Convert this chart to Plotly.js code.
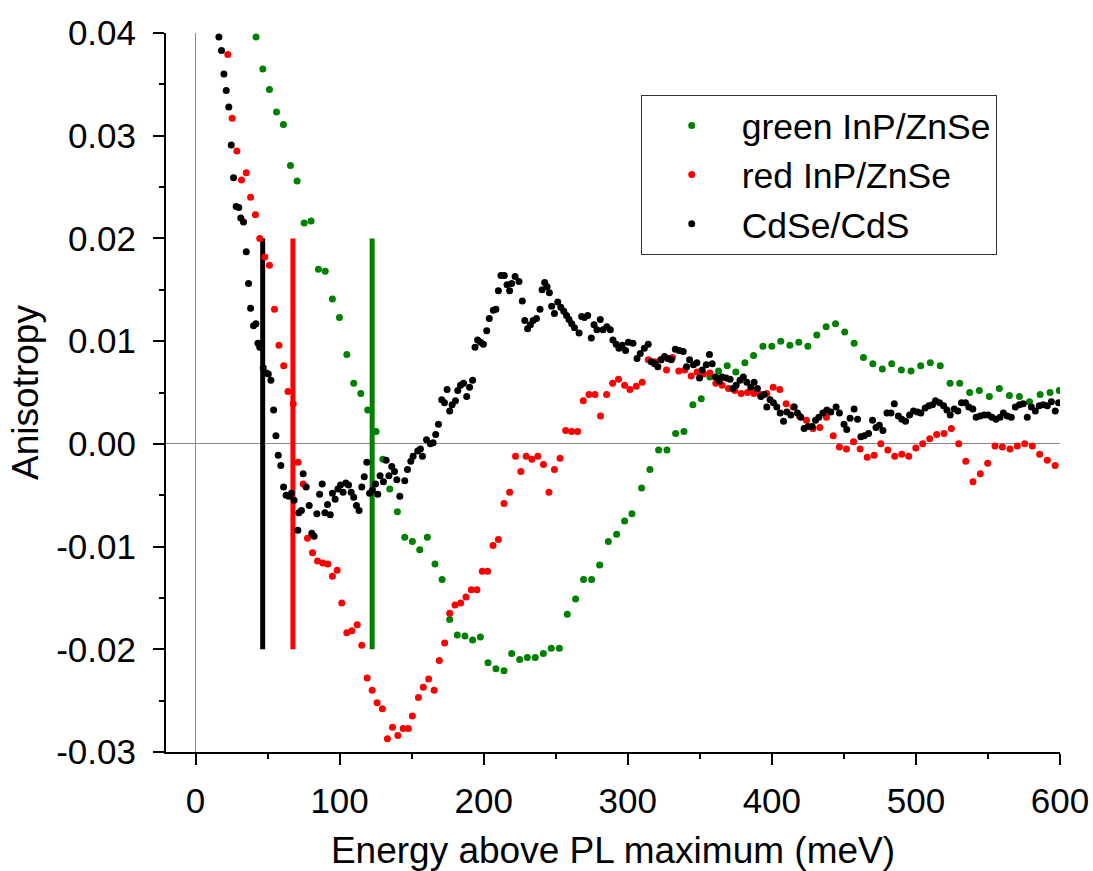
<!DOCTYPE html>
<html>
<head>
<meta charset="utf-8">
<script src="https://cdn.plot.ly/plotly-3.0.1.min.js"></script>
<style>html,body{margin:0;padding:0;background:#fff;}#chart{width:1093px;height:871px;}</style>
</head>
<body>
<div id="chart"></div>
<script>
// ---- data ----
const greenX = [42,46.7,51.3,56.2,61,65.9,70.5,75.4,80.2,85.3,90,95,99.9,105,109.8,114.7,119.5,125.3,130,134.8,140.1,145.2,150.5,155.6,160.9,166.2,171.1,176.4,181.7,187,192.3,197.7,203,208.5,214.1,219.4,225,230.3,235.8,241.4,246.9,252.5,258,263.8,269.3,274.9,280.5,286.5,292.3,297.8,302.9,309.6,315.4,321.4,327.2,333.2,339,345.2,351,357,363,369,375,381.3,387.3,393.8,400,406.2,412.5,418.7,425,431.2,437.7,444.2,450.6,457.1,463.6,470.1,476.7,483.2,489.9,496.6,503.3,510,516.9,523.7,530.4,537.3,544,551,557.9,564.9,571.8,578.8,586.2,593.1,599.5];
const greenY = [0.0396,0.0365,0.0345,0.0323,0.0311,0.0271,0.0256,0.0215,0.0217,0.0170,0.0168,0.0141,0.0123,0.0087,0.0059,0.0049,0.0033,0.0012,-0.0015,-0.0044,-0.0066,-0.0091,-0.0095,-0.0103,-0.0091,-0.0117,-0.0132,-0.0171,-0.0186,-0.0187,-0.0191,-0.0188,-0.0213,-0.0219,-0.0221,-0.0204,-0.0210,-0.0208,-0.0208,-0.0204,-0.0199,-0.0199,-0.0166,-0.0151,-0.0132,-0.0132,-0.0118,-0.0095,-0.0088,-0.0075,-0.0068,-0.0043,-0.0025,-0.0006,-0.0006,0.0010,0.0012,0.0038,0.0044,0.0065,0.0071,0.0076,0.0070,0.0079,0.0086,0.0095,0.0095,0.0100,0.0096,0.0099,0.0095,0.0106,0.0114,0.0117,0.0109,0.0098,0.0084,0.0078,0.0073,0.0078,0.0072,0.0071,0.0076,0.0079,0.0076,0.0059,0.0059,0.0050,0.0052,0.0046,0.0054,0.0047,0.0046,0.0041,0.0048,0.0050,0.0052];

const redX = [22.4,25.4,28.7,31.9,35.2,38.2,41.6,44.6,48.1,51.3,54.8,57.9,61.2,64.2,67.8,71.2,74.7,77.7,81.2,84.7,88.3,91.8,95,98.3,101.5,105,108.5,112.2,115.4,119.1,122.6,126,129.7,133.2,136.7,140.4,144.1,147.7,150.5,154.7,158.1,161.8,165.6,169.2,172.9,176.4,180.1,184,187.7,191.4,195.3,199,202.7,206.5,210.2,214.1,218,222.1,225.8,229.5,233.4,237.6,241.5,245.3,249.1,253,256.9,261.1,265.2,269.1,273.1,277.3,281.1,285.3,289.5,293.6,297.8,301.5,305.9,310,314.2,318.6,322.7,326.9,331,335.4,339.6,344,348.1,352.6,357,361.1,365.5,369.9,374.3,378.7,383.1,387.5,391.9,396.5,400.9,405.5,409.9,414.8,419.2,424,428.5,433.3,437.9,442.6,446.9,451.8,456.7,461.3,466.2,471,475.6,480.5,485.3,490.2,495,499.9,504.7,509.6,514.4,519.5,524.6,529.7,534.6,539.6,544.7,549.8,554.9,560,565.3,570.4,575.5,580.8,585.9,591.2,596.6];
const redY = [0.0379,0.0317,0.0285,0.0257,0.0264,0.0240,0.0223,0.0200,0.0182,0.0174,0.0131,0.0096,0.0076,0.0051,0.0039,-0.0018,-0.0039,-0.0092,-0.0106,-0.0114,-0.0116,-0.0117,-0.0129,-0.0123,-0.0155,-0.0184,-0.0182,-0.0176,-0.0196,-0.0228,-0.0240,-0.0252,-0.0258,-0.0287,-0.0276,-0.0284,-0.0277,-0.0277,-0.0265,-0.0247,-0.0237,-0.0229,-0.0240,-0.0211,-0.0194,-0.0165,-0.0157,-0.0155,-0.0149,-0.0142,-0.0142,-0.0124,-0.0124,-0.0099,-0.0093,-0.0058,-0.0047,-0.0012,-0.0027,-0.0012,-0.0015,-0.0012,-0.0020,-0.0047,-0.0025,-0.0014,0.0013,0.0012,0.0012,0.0042,0.0048,0.0048,0.0027,0.0048,0.0059,0.0063,0.0057,0.0053,0.0056,0.0060,0.0082,0.0080,0.0082,0.0072,0.0084,0.0071,0.0072,0.0066,0.0070,0.0068,0.0069,0.0059,0.0057,0.0054,0.0052,0.0049,0.0050,0.0049,0.0048,0.0049,0.0055,0.0053,0.0039,0.0036,0.0027,0.0023,0.0015,0.0016,0.0026,0.0008,-0.0003,-0.0005,0.0002,-0.0005,-0.0013,-0.0011,0.0000,-0.0006,-0.0012,-0.0010,-0.0012,-0.0004,0.0000,0.0005,0.0009,0.0010,0.0015,0.0000,-0.0017,-0.0037,-0.0029,-0.0019,-0.0002,-0.0003,-0.0005,-0.0002,0.0000,-0.0002,-0.0010,-0.0016,-0.0021];

const blackX = [16.2,18,19.7,21.3,23.1,24.8,26.4,28.2,30,31.4,33.3,35.2,36.8,38.2,40.3,41.9,43.3,44.6,47,48.9,50.5,52.3,54.2,55.8,57.4,59.2,61.1,62.9,64.8,66.6,68.4,71,71.7,73.5,74.7,76.8,78.9,80.7,82.3,84.2,86.1,87.9,89.8,91.6,93.5,95,96.9,98.8,100.6,102.4,104.3,106.2,108,109.8,111.7,113.5,115.4,117.1,118.9,120.8,122.8,124.9,126.5,128.1,130.4,132.3,134.2,136.2,138.1,139.7,141.8,145.2,147.1,149.4,151,154.2,156.1,157.5,160.3,163,164.9,166.7,168.6,170.9,172.8,174.6,176.4,178.1,180.4,182,183.9,186,188.2,190.2,192.3,194,195.8,197.8,199.8,202.1,203.9,206.7,208.5,210.2,212,214.3,216.2,218,219.4,221.8,224.5,226.8,228.5,230.5,232.4,234.3,236.6,239.1,240.5,242.3,244,245.6,247.2,249.1,251.4,253.5,255.6,257.5,259.2,261.1,263,266.2,268,269.9,272.2,274.7,276.6,278.6,280.9,282.8,285.5,287.9,289.7,292,293.9,296.2,298.5,300.4,303.6,306.4,308.7,311.5,314.2,316.3,318.6,320.9,323.2,325.5,327.9,330.2,333,335.7,338.5,340.8,342.9,345.6,348,349.8,351.7,354.5,356.7,358.6,360.9,363.5,365.5,368.3,371,372.9,375.2,377.9,380.2,382.6,385.4,387.7,390,392.4,394.7,396.5,398.8,401.1,403.4,405.8,408.1,410.4,413.2,415.5,417.8,420.1,422.4,425.2,428,430.3,432.6,435.4,438.2,440.9,444.6,446.9,450.1,452,454.3,457.1,459.5,461.8,464.1,467.1,469.9,472.3,474.6,477.1,479.9,482.7,485,487.8,490.2,492.8,495.6,498.3,501.1,503.4,506.4,509,511.5,513.6,516.4,519.2,521.5,523.8,526.6,529.1,531.6,534.4,536.7,539.5,541.8,544.5,547.3,550.1,552.8,555.6,558.4,560.7,563.4,566.2,569,571.8,574.5,577.3,580.1,582.9,585.6,588.4,591.2,594,596.7,599];
const blackY = [0.0396,0.0383,0.0360,0.0344,0.0328,0.0291,0.0259,0.0231,0.0230,0.0220,0.0216,0.0187,0.0156,0.0132,0.0115,0.0117,0.0098,0.0094,0.0074,0.0069,0.0068,0.0062,0.0033,0.0008,-0.0011,-0.0021,-0.0042,-0.0050,-0.0051,-0.0048,-0.0055,-0.0084,-0.0067,-0.0065,-0.0029,-0.0042,-0.0060,-0.0087,-0.0090,-0.0068,-0.0049,-0.0039,-0.0067,-0.0059,-0.0069,-0.0048,-0.0054,-0.0044,-0.0040,-0.0047,-0.0038,-0.0040,-0.0047,-0.0052,-0.0060,-0.0065,-0.0042,-0.0032,-0.0018,-0.0048,-0.0045,-0.0039,-0.0049,-0.0031,-0.0037,-0.0016,-0.0031,-0.0022,-0.0027,-0.0035,-0.0051,-0.0036,-0.0025,-0.0017,-0.0012,-0.0007,-0.0005,-0.0012,0.0004,0.0000,0.0001,0.0009,0.0019,0.0043,0.0040,0.0053,0.0032,0.0038,0.0042,0.0052,0.0057,0.0059,0.0046,0.0055,0.0062,0.0094,0.0101,0.0099,0.0097,0.0110,0.0122,0.0130,0.0131,0.0149,0.0164,0.0164,0.0155,0.0149,0.0156,0.0163,0.0158,0.0139,0.0120,0.0112,0.0116,0.0120,0.0122,0.0131,0.0150,0.0157,0.0153,0.0147,0.0134,0.0127,0.0138,0.0133,0.0129,0.0125,0.0121,0.0117,0.0113,0.0108,0.0124,0.0123,0.0125,0.0103,0.0116,0.0111,0.0121,0.0111,0.0114,0.0111,0.0101,0.0097,0.0093,0.0096,0.0091,0.0099,0.0098,0.0083,0.0088,0.0093,0.0097,0.0080,0.0078,0.0075,0.0082,0.0085,0.0083,0.0082,0.0092,0.0091,0.0090,0.0075,0.0082,0.0077,0.0079,0.0064,0.0072,0.0077,0.0087,0.0078,0.0065,0.0061,0.0065,0.0064,0.0063,0.0054,0.0057,0.0062,0.0065,0.0060,0.0055,0.0060,0.0054,0.0046,0.0048,0.0036,0.0043,0.0040,0.0036,0.0030,0.0022,0.0031,0.0028,0.0036,0.0030,0.0026,0.0015,0.0017,0.0017,0.0023,0.0026,0.0030,0.0033,0.0031,0.0036,0.0030,0.0019,0.0014,0.0025,0.0034,0.0024,0.0007,0.0008,0.0010,0.0023,0.0016,0.0018,0.0013,0.0030,0.0030,0.0039,0.0027,0.0024,0.0022,0.0028,0.0032,0.0031,0.0030,0.0035,0.0037,0.0038,0.0042,0.0040,0.0037,0.0033,0.0028,0.0034,0.0032,0.0040,0.0040,0.0036,0.0034,0.0026,0.0027,0.0028,0.0028,0.0026,0.0024,0.0026,0.0030,0.0027,0.0026,0.0036,0.0038,0.0039,0.0026,0.0036,0.0032,0.0037,0.0038,0.0037,0.0041,0.0032,0.0040];

// vertical marker bars (energy positions, meV) and their extent in anisotropy
const seriesNames = ["green InP/ZnSe", "red InP/ZnSe", "CdSe/CdS"];
const seriesColors = ["#008000", "#ff0000", "#000000"];
const barX = [122.6, 67.6, 46.6];   // green, red, black
const barY = [-0.02, 0.02];

const xTickVals = [0,100,200,300,400,500,600];
const xTickText = ["0","100","200","300","400","500","600"];
const yTickVals = [0.04,0.03,0.02,0.01,0,-0.01,-0.02,-0.03];
const yTickText = ["0.04","0.03","0.02","0.01","0.00","-0.01","-0.02","-0.03"];

const FONT = "Arial, 'Liberation Sans', sans-serif";

const traces = [];
// bars first (underneath)
barX.forEach((bx, i) => {
  traces.push({
    x: [bx, bx], y: barY, type: "scatter", mode: "lines",
    line: {color: seriesColors[i], width: 5},
    showlegend: false, hoverinfo: "skip"
  });
});
const xs = [greenX, redX, blackX];
const ys = [greenY, redY, blackY];
for (let i = 0; i < 3; i++) {
  traces.push({
    x: xs[i], y: ys[i], type: "scatter", mode: "markers",
    name: seriesNames[i],
    marker: {color: seriesColors[i], size: 7, line: {width: 0}}
  });
}

const layout = {
  width: 1093, height: 871,
  margin: {l: 166, r: 33, t: 33, b: 119},
  paper_bgcolor: "#fff", plot_bgcolor: "#fff",
  font: {family: FONT, color: "#000", size: 35},
  showlegend: true,
  legend: {
    x: 0.531, y: 0.914, xanchor: "left", yanchor: "top",
    bordercolor: "#333", borderwidth: 1, bgcolor: "#fff",
    font: {family: FONT, size: 35.5, color: "#000"},
    itemwidth: 90, itemsizing: "trace", traceorder: "normal"
  },
  xaxis: {
    range: [-20.5, 600], 
    tickvals: xTickVals, ticktext: xTickText,
    ticks: "outside", ticklen: 11, tickwidth: 2, tickcolor: "#000",
    minor: {dtick: 50, ticks: "outside", ticklen: 5, tickwidth: 2, tickcolor: "#000", showgrid: false},
    showline: true, linewidth: 2, linecolor: "#000", mirror: false,
    showgrid: false, zeroline: true, zerolinecolor: "#888", zerolinewidth: 1,
    tickfont: {family: FONT, size: 35},
    ticklabelstandoff: 6,
    title: {text: "Energy above PL maximum (meV)", font: {family: FONT, size: 37}, standoff: 25}
  },
  yaxis: {
    range: [-0.03, 0.04],
    tickvals: yTickVals, ticktext: yTickText,
    ticks: "outside", ticklen: 11, tickwidth: 2, tickcolor: "#000",
    minor: {dtick: 0.005, ticks: "outside", ticklen: 5, tickwidth: 2, tickcolor: "#000", showgrid: false},
    showline: true, linewidth: 2, linecolor: "#000", mirror: false,
    showgrid: false, zeroline: true, zerolinecolor: "#888", zerolinewidth: 1,
    tickfont: {family: FONT, size: 35},
    ticklabelstandoff: 10,
    title: {text: "Anisotropy", font: {family: FONT, size: 37}, standoff: 6}
  }
};

Plotly.newPlot("chart", traces, layout, {displayModeBar: false, staticPlot: true});
</script>
</body>
</html>
